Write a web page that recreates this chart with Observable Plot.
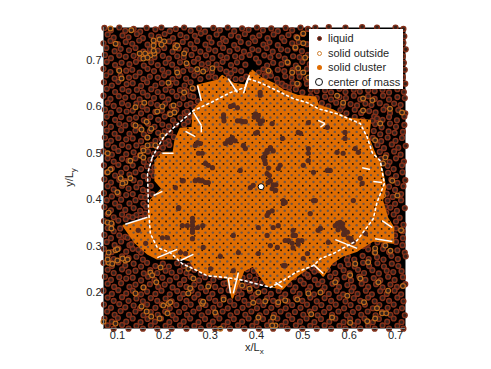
<!DOCTYPE html>
<html><head><meta charset="utf-8">
<script src="https://cdn.jsdelivr.net/npm/d3@7"></script>
<script src="https://cdn.jsdelivr.net/npm/@observablehq/plot@0.6"></script>
<style>
html,body{margin:0;padding:0;background:#fff;width:491px;height:369px;overflow:hidden}
#wrap{position:relative;width:491px;height:369px;font-family:"Liberation Sans",sans-serif;color:#262626}
.lab{position:absolute;font-size:11px;white-space:nowrap;line-height:1}
.lab sub{font-size:8px;vertical-align:-3px;line-height:0}
#legend{position:absolute;left:309px;top:29px;width:94px;height:60px;background:#fff;font-size:11px;color:#262626}
#legend div{position:absolute;left:19px;line-height:1;white-space:nowrap}
#legend i{position:absolute;box-sizing:border-box;border-radius:50%}
</style></head><body><div id="wrap"></div>
<script>
// All values are thousandths of L (x, y, x, y, ...).
const xTicks=[0.1,0.2,0.3,0.4,0.5,0.6,0.7];
const yTicks=[0.2,0.3,0.4,0.5,0.6,0.7];
const clusterOutline=[391,678,408,663,436,650,458,635,488,624,527,620,533,603,566,592,596,575,645,570,641,534,652,506,671,463,678,426,671,398,682,361,695,340,695,307,652,312,624,295,617,290,585,279,563,264,544,236,523,262,473,226,456,208,423,215,393,258,372,247,348,189,337,232,301,236,268,251,257,269,240,273,221,273,186,273,165,284,139,307,113,344,167,359,171,398,197,424,182,441,182,484,197,501,221,501,225,527,236,553,262,555,264,592,283,613,273,646,318,657,326,667,350,650,376,646,387,674];
const dashedBoundary=[175,491,199,534,221,555,264,592,301,609,344,631,376,642,382,661,408,652,436,639,479,618,510,609,533,596,574,585,624,564,639,534,650,501,667,484,676,435,660,394,652,359,617,312,566,284,538,273,523,258,484,243,458,226,430,211,372,226,337,232,294,236,264,251,240,262,214,286,186,297,171,327,167,383,165,456,175,491];
const spikes=[273,646,281,613, 264,588,281,560, 281,560,281,545, 247,547,268,536, 197,500,221,500, 339,661,359,631, 376,646,385,668, 382,661,372,629, 533,571,548,564, 548,564,538,556, 628,469,645,465, 652,439,671,437, 671,355,693,340, 656,316,693,310, 570,314,617,295, 523,260,544,241, 441,222,456,211, 361,243,350,198, 339,232,344,198, 186,275,229,293, 236,269,264,282, 117,347,165,362, 178,409,197,418];
const holes=[350,603,359,598,344,601,329,583,329,577,359,570,370,568,404,581,413,570,398,585,408,564,402,545,398,543,344,523,333,521,348,534,372,517,376,510,273,523,268,517,275,500,283,500,296,474,290,478,305,469,283,441,290,437,275,443,268,441,365,463,240,441,415,491,423,506,430,512,419,478,423,456,430,441,434,424,441,420,393,431,387,426,451,474,447,467,458,398,458,392,426,372,434,376,423,366,495,543,501,474,512,484,408,625,408,631,434,564,512,566,490,545,553,556,512,510,512,500,591,545,591,532,574,502,587,500,620,502,613,510,430,510,423,502,456,532,559,463,553,463,624,446,628,435,609,398,523,459,527,398,581,351,587,338,598,318,570,344,609,308,635,327,538,338,555,308,479,323,469,312,490,312,479,334,477,306,516,370,523,398,533,334,510,284,501,273,458,258,462,394,436,340,262,344,251,344,273,340,262,316,232,383,285,297,322,278,361,286,350,323,404,340,423,323,430,301,445,297,404,284,462,258,447,344,350,247,301,251,242,441,225,426,232,381,197,318,208,318,145,334,161,306,247,284,236,286,279,521,262,330,588,325,576,335,592,330,604,313,586,348,
418,485,426,468,428,452,436,432,425,437,442,432,419,499,436,505,575,349,590,330,604,316,596,330,580,342,262,352,262,360,262,336,240,344,284,344,279,441,296,437,344,530,338,527,354,527,404,572,395,578,365,570,376,568,484,323,498,312,462,312,490,304,479,296,330,570];
const latticeXa=[120,135,151,166,182,197,213,228,244,259,275,290,306,321,337,352,368,383,399,414,430,445,461,476,492,507,523,538,554,569,585,600,616,631,647,662,678,693];
const latticeXb=[128,143,159,174,190,205,221,236,252,267,283,298,314,329,345,360,376,391,407,422,438,453,469,484,500,515,531,546,562,577,593,608,624,639,655,670,686];
const latticeYa=[190,205,221,236,252,267,283,298,314,329,345,360,376,391,407,422,438,453,469,484,500,515,531,546,562,577,593,608,624,639,655,670];
const latticeYb=[198,213,229,244,260,275,291,306,322,337,353,368,384,399,415,430,446,461,477,492,508,523,539,554,570,585,601,616,632,647,663];
const solidOutside=[85,769,130,765,96,736,178,743,191,745,201,741,195,734,178,732,225,728,229,732,148,715,160,715,171,711,156,704,165,706,180,715,178,721,244,715,249,694,104,678,109,661,229,674,210,652,244,631,158,609,139,599,186,590,197,601,221,603,223,588,214,584,272,681,305,683,285,676,262,640,163,568,139,560,152,551,173,553,165,534,197,538,182,517,165,517,156,506,150,495,156,491,79,500,85,465,79,459,107,446,117,437,128,446,111,435,100,416,128,484,81,372,79,351,87,349,87,338,81,286,96,291,117,269,81,264,100,293,79,271,89,262,100,269,111,273,122,271,171,243,175,237,193,254,184,222,156,211,139,198,253,198,257,209,296,213,152,170,163,159,173,148,191,144,208,155,199,172,210,176,214,179,283,176,285,180,311,157,329,185,70,137,96,133,322,122,264,230,253,251,369,215,385,208,404,200,393,178,419,181,447,179,462,183,488,185,512,198,538,200,570,222,602,237,624,230,641,265,656,286,663,222,684,204,660,166,671,155,680,155,632,179,596,193,404,146,436,146,441,129,434,129,518,153,563,146,602,135,639,138,656,144,716,214,613,262,581,284,641,489,652,491,663,478,678,491,673,478,656,478,693,441,673,409,704,409,712,334,678,301,689,290,656,295,488,749,501,758,484,728,501,737,505,706,490,683,477,674,501,674,488,650,630,618,650,614,688,596,714,588,656,528,667,564,630,592,587,609,574,624,426,678,467,696,512,663];
const liquidTop=[72,770,86,765,104,771,117,764,135,768,149,762,163,770,182,767,195,771,213,763,226,768,244,771,258,764,276,769,289,762,307,770,321,765,338,771,352,763,369,769,383,766,401,771,414,765,432,769,446,763,463,770,477,765,495,771,511,768,527,771,556,772,592,771,628,772,660,771,700,771,717,768,
79,756,92,749,111,754,124,750,142,757,155,748,173,754,189,751,202,757,220,748,236,755,249,750,267,753,280,758,298,749,314,756,328,747,345,754,361,751,375,757,392,749,406,754,424,748,437,756,455,749,469,755,486,751,500,757,719,752,
70,737,85,742,101,735,118,740,132,736,147,743,165,734,180,739,194,737,212,741,225,733,241,740,258,735,272,742,290,734,303,739,321,736,334,742,352,733,366,740,383,737,397,742,415,734,428,739,446,733,460,742,477,737,491,739,509,735,717,738,
76,727,94,720,107,725,125,722,139,727,156,719,170,724,187,721,201,727,219,719,232,726,248,722,266,726,279,719,297,724,311,721,328,727,342,720,359,725,373,719,391,724,404,722,422,727,435,719,453,724,467,722,484,726,498,720,722,724,
73,712,86,705,104,711,118,708,135,710,149,704,166,712,180,707,198,710,211,704,229,709,243,707,260,712,274,704,291,711,305,705,323,710,336,706,354,709,368,707,385,712,399,704,417,711,430,707,448,710,461,704,479,709,493,707,511,712,716,709,
77,697,95,690,109,695,126,692,140,697,157,689,173,696,187,690,204,695,218,691,235,696,251,689,265,697,282,692,296,694,314,691,327,697,345,690,358,696,376,691,405,696,423,689,436,695,454,692,468,694,485,689,499,697,515,692,718,695,
70,682,85,675,103,681,119,678,132,680,148,674,165,682,179,677,197,680,210,674,228,681,242,677,259,680,273,674,291,681,304,675,322,682,335,676,353,679,367,677,415,681,429,674,446,680,460,677,478,679,491,674,509,682,720,680,
76,668,94,661,107,667,125,663,139,666,156,660,170,665,187,663,201,668,219,660,232,667,248,661,266,668,279,660,297,665,311,663,431,667,444,660,462,666,476,663,493,665,507,660,716,664];
const liquidSides=[71,653,88,646,102,654,120,649,133,651,151,645,164,653,182,646,196,651,213,647,227,652,245,646,258,653,446,652,460,645,478,651,491,648,509,650,523,645,721,650,
77,639,95,632,111,638,124,634,142,637,155,631,173,638,187,632,204,637,218,633,235,636,249,634,264,639,485,638,499,631,517,637,530,634,548,636,561,631,579,639,592,632,610,637,623,633,641,636,655,634,672,637,686,631,704,638,718,632,
70,624,85,617,103,623,117,620,134,622,148,616,165,624,179,619,197,622,210,616,228,623,242,619,257,624,517,623,530,619,548,622,561,616,579,621,593,619,610,624,624,616,641,623,655,617,673,624,686,616,704,621,720,619,
79,609,92,602,110,608,123,604,141,607,154,601,172,608,186,604,203,607,217,601,234,606,250,604,541,608,555,601,572,609,586,602,603,606,617,603,635,607,648,604,666,608,680,601,697,607,711,604,
73,594,86,587,104,593,120,590,133,592,151,586,164,594,182,589,196,592,213,586,227,593,245,587,581,593,594,586,612,594,626,587,643,591,657,588,674,594,688,587,706,593,721,586,
77,579,95,572,108,578,126,574,140,577,157,571,171,578,188,572,202,579,220,571,612,578,629,571,654,579,672,572,686,578,703,571,719,579,
72,564,86,557,104,563,117,560,135,562,148,556,166,564,180,557,197,562,211,558,656,563,670,556,688,564,701,557,719,561,
77,549,94,542,108,550,126,542,139,549,157,541,170,548,188,544,202,547,653,548,667,541,685,547,698,544,716,546,
73,534,86,527,102,533,119,530,133,532,151,526,164,534,182,527,195,532,210,526,651,533,669,526,683,534,700,527,714,533,
79,519,93,512,110,518,124,514,141,517,155,511,173,518,186,514,661,518,675,511,692,519,706,512,722,516,
70,504,88,497,102,505,119,498,135,502,149,496,166,504,179,499,666,503,680,496,697,504,711,497,
79,489,92,482,110,488,124,484,139,489,157,481,171,486,669,488,687,481,701,489,718,482,
71,474,88,467,102,475,119,468,133,474,151,466,164,472,683,473,696,466,714,474,
77,459,95,452,108,458,126,454,139,459,157,451,684,458,701,451,715,459,
72,444,86,437,104,443,117,440,135,442,149,436,166,444,691,443,704,436,721,442,
79,429,92,422,110,430,124,424,141,427,155,421,686,428,699,421,717,429,
71,414,88,407,102,413,119,410,133,412,151,406,681,413,694,406,712,412,
77,399,95,392,108,400,126,392,139,399,156,391,683,398,699,391,712,399,
72,384,86,377,104,385,117,378,135,382,149,376,689,383,703,376,720,382,
79,369,92,362,110,368,124,364,141,367,154,361,696,368,709,361,
71,354,88,347,102,355,701,353,717,346,
79,339,92,332,701,338,715,332,
72,324,86,317,104,323,117,320,699,323,716,317,
77,309,94,302,108,310,126,302,661,308,675,301,701,309,715,302,
71,294,88,287,102,295,119,288,133,294,151,286,641,293,655,286,673,294,686,287,704,291,720,286,
79,279,92,272,110,278,124,274,141,277,155,271,597,278,611,271,629,279,642,272,660,276,674,271,691,279,705,272,722,278,
70,264,88,257,102,265,117,258,135,262,151,256,164,264,182,257,198,262,211,256,229,263,243,257,536,263,549,256,567,264,581,257,598,261,612,256,630,264,643,257,661,263,675,256,692,262,706,257,
79,249,92,242,110,250,124,244,139,247,157,241,171,248,186,242,204,247,217,243,235,246,249,242,266,249,280,241,491,248,504,241,554,249,570,242,588,248,601,241,619,249,632,242,650,248,664,241,681,247,695,244,713,246];
const liquidBottom=[73,234,86,227,104,233,119,230,133,232,151,226,166,234,180,227,197,232,213,226,227,233,244,227,258,234,276,226,289,233,307,227,321,234,481,233,495,226,512,234,526,227,542,224,559,234,573,227,590,233,604,226,622,234,635,227,653,231,667,226,684,234,698,227,716,233,
79,219,93,212,108,220,126,212,139,217,157,211,170,218,188,212,202,217,219,211,235,218,249,212,266,217,280,211,298,218,311,212,329,219,343,211,360,218,374,212,391,219,471,218,484,211,502,219,516,212,533,218,547,211,564,219,578,212,596,216,609,211,627,219,641,212,658,218,672,211,689,217,703,212,721,218,
70,204,88,197,102,205,119,198,133,204,151,196,164,202,182,197,195,204,213,196,229,203,242,197,260,204,274,196,291,203,305,197,323,204,353,201,368,197,386,204,399,196,417,203,431,197,448,204,462,196,479,203,493,197,511,204,524,196,542,203,556,197,573,204,587,196,605,203,618,197,636,204,649,196,667,203,681,197,698,204,712,196,
79,189,92,182,110,190,124,182,141,187,155,181,172,188,186,182,204,187,217,181,235,188,249,182,266,189,280,181,298,188,311,182,329,189,343,181,360,188,374,182,391,189,405,181,423,188,436,182,454,189,467,181,485,188,499,182,516,189,530,181,547,188,561,182,579,189,592,181,610,188,624,182,641,189,655,181,672,188,686,182,704,189,717,181,
71,174,86,167,104,175,117,168,135,172,149,166,164,174,182,167,196,174,213,166,227,173,245,167,258,174,276,166,290,173,307,167,321,174,338,166,352,173,370,167,383,174,401,166,415,173,432,167,446,174,463,166,477,173,495,167,509,174,526,166,540,173,557,167,571,174,589,166,603,173,620,167,634,174,651,166,665,173,683,167,696,174,714,166,
78,159,94,152,107,160,125,152,139,159,156,151,172,158,187,152,203,159,219,151,233,158,250,152,264,159,282,151,296,158,313,152,327,159,344,151,358,158,376,152,389,159,407,151,421,158,438,152,452,159,469,151,483,158,501,152,515,159,532,151,546,158,563,152,577,159,595,151,608,158,626,152,640,159,657,151,671,158,689,152,702,159,720,151,
72,144,88,137,101,145,119,137,133,144,150,136,165,143,181,137,194,144,212,136,226,143,243,137,257,144,275,136,289,143,306,137,320,144,338,136,351,143,369,137,383,144,400,136,414,143,431,137,445,144,463,136,477,143,494,137,508,144,525,136,539,143,557,137,570,144,588,136,602,143,619,137,633,144,651,136,664,143,682,137,696,144,713,136,
79,129,92,122,110,130,124,122,141,128,155,122,172,129,186,122,204,128,217,122,235,129,249,122,266,128,280,122,298,129,311,122,329,128,343,122,360,129,374,122,391,128,405,122,423,129,436,122,454,128,467,122,485,129,499,122,516,128,530,122,547,129,561,122,579,128,592,122,610,129,624,122,641,128,655,122,672,129,686,122,704,128,717,122];
const liquidNearCluster=[340,664,355,660,368,660,378,665,345,672,326,660,405,674,418,668,264,622,274,612,258,607,266,600,250,590,256,578,236,577,252,568,226,562,244,562,214,545,222,535,212,518,198,512,190,498,204,522,172,460,172,430,180,470,165,418,160,405,162,385,160,370,178,452,175,412,118,358,133,362,150,360,106,338,122,318,130,304,145,292,255,258,268,256,362,205,370,232,385,235,380,222,398,228,405,240,400,215,412,222,394,247,335,220,340,205,355,222,520,252,525,245,535,248,510,238,470,642,455,650,462,645,470,632,680,372,678,385,650,570,660,575,420,665,630,300,640,305,595,270,380,250,360,238];
const centerOfMass=[410,428];

// build tables from the arrays
const pts=a=>d3.range(0,a.length,2).map(i=>({x:a[i]/1000,y:a[i+1]/1000}));
const outlinePts=clusterOutline.reduce((r,v,i)=>(i%2?r[r.length-1].push(v):r.push([v]),r),[]);
const inside=(xs,ys)=>d3.cross(xs,ys).filter(p=>d3.polygonContains(outlinePts,p)).map(([x,y])=>({x:x/1000,y:y/1000}));
const segs=d3.range(0,spikes.length,4).map(i=>({x1:spikes[i]/1000,y1:spikes[i+1]/1000,x2:spikes[i+2]/1000,y2:spikes[i+3]/1000}));
const liquid=pts(liquidTop.concat(liquidSides,liquidBottom,liquidNearCluster));

const ORANGE="#e06d02",RING="#84301a",CORE="#33221c",HOLE="#552a1e";
const plot=Plot.plot({
  width:491,height:369,marginLeft:103,marginRight:86,marginTop:27,marginBottom:41,
  style:{background:"transparent",fontFamily:"Liberation Sans, sans-serif",fontSize:"11px",color:"#262626"},
  x:{domain:[0.07,0.7215],label:null},y:{domain:[0.1224,0.771],label:null},
  marks:[
    Plot.frame({fill:"#000",stroke:"none"}),
    Plot.dot(liquid,{x:"x",y:"y",r:2.4,stroke:RING,strokeWidth:1.4,fill:CORE}),
    Plot.dot(pts(solidOutside),{x:"x",y:"y",r:2.4,stroke:"#bf6a1c",strokeWidth:1.2,fill:CORE}),
    Plot.line(pts(clusterOutline),{x:"x",y:"y",fill:ORANGE,stroke:ORANGE,strokeWidth:2}),
    Plot.dot(inside(latticeXa,latticeYa),{x:"x",y:"y",r:1.2,fill:"#6d5547"}),
    Plot.dot(inside(latticeXb,latticeYb),{x:"x",y:"y",r:0.9,fill:"#15100c"}),
    Plot.dot(pts(holes),{x:"x",y:"y",r:2.6,fill:HOLE}),
    Plot.line(pts(dashedBoundary),{x:"x",y:"y",stroke:"#fff",strokeWidth:1.6,strokeDasharray:"2 3.2"}),
    Plot.link(segs,{x1:"x1",y1:"y1",x2:"x2",y2:"y2",stroke:"#fff",strokeWidth:1.5}),
    Plot.dot(pts(centerOfMass),{x:"x",y:"y",r:3,fill:"#fff",stroke:"#000",strokeWidth:1}),
    Plot.ruleX([0.07],{stroke:"#808080",strokeWidth:1}),
    Plot.ruleY([0.1224],{stroke:"#808080",strokeWidth:1}),
    Plot.axisX(xTicks,{tickSize:0,tickPadding:3,tickFormat:d3.format(".1f"),label:null}),
    Plot.axisY(yTicks,{tickSize:0,tickPadding:2,tickFormat:d3.format(".1f"),label:null})
  ]
});
const wrap=document.getElementById("wrap");
wrap.append(plot);
const labels=[["x/L<sub>x</sub>","left:245px;top:342px"],["y/L<sub>y</sub>","left:60px;top:172px;transform:rotate(-90deg)"]];
for(const [h,s] of labels){const d=document.createElement("div");d.className="lab";d.innerHTML=h;d.style.cssText=s;wrap.append(d);}
const legendRows=["liquid","solid outside","solid cluster","center of mass"];
const legendMarks=["left:7.5px;width:5px;height:5px;border:1.4px solid #8a2c18;background:#3a2620",
 "left:7.5px;width:5px;height:5px;border:1.4px solid #d08030;background:#fff",
 "left:7.5px;width:5px;height:5px;background:#df6c02",
 "left:6px;width:8px;height:8px;border:1.4px solid #111;background:#fff"];
const rowTop=[9,24,38,53];
const lg=document.createElement("div");lg.id="legend";
legendRows.forEach((t,i)=>{
  const m=document.createElement("i");m.style.cssText=legendMarks[i]+`;top:${rowTop[i]-(i==3?4:2.5)}px`;lg.append(m);
  const d=document.createElement("div");d.textContent=t;d.style.top=(rowTop[i]-5.5)+"px";lg.append(d);
});
wrap.append(lg);
</script></body></html>
